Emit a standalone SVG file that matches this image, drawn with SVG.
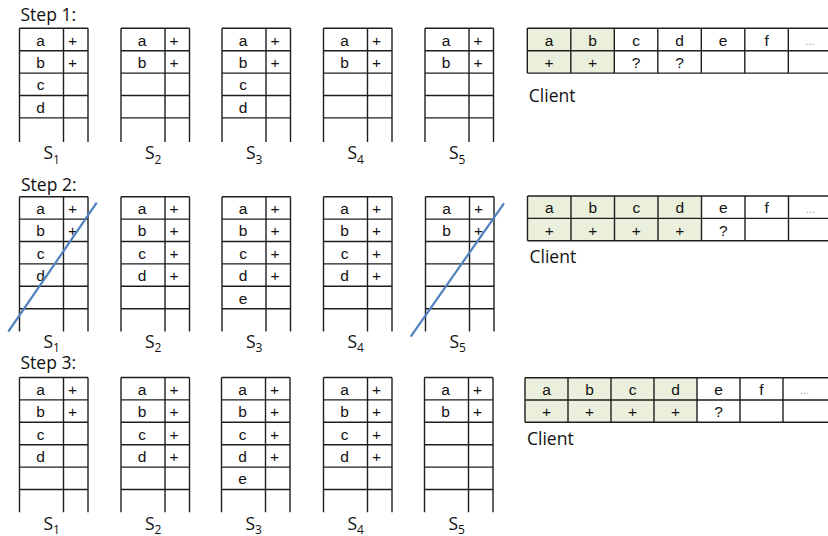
<svg xmlns="http://www.w3.org/2000/svg" xmlns:xlink="http://www.w3.org/1999/xlink" width="828" height="536" viewBox="0 0 828 536">
<style>
.grid{fill:none;stroke:#1e1e1e;stroke-width:1.4}
.c{font-family:"Liberation Sans",Arial,sans-serif;font-size:15.5px;fill:#111;text-anchor:middle}
.dots{font-family:"Liberation Sans",Arial,sans-serif;font-size:11px;fill:#9a9a9a;text-anchor:middle}
.lbl{font-family:"Open Sans","Liberation Sans",sans-serif;font-size:17.5px;fill:#111}
.sub{font-size:12px}
.shade{fill:#EAF0DC}
.slash{stroke:#4F81BD;stroke-width:2.2;fill:none}
</style>
<defs>
<path id="g5" class="grid" d="M0 0H68.5M0 22.4H68.5M0 44.8H68.5M0 67.2H68.5M0 89.6H68.5M0 0V113.7M44 0V113.7M68.5 0V113.7"/>
<path id="g6" class="grid" d="M0 0H68.5M0 22.4H68.5M0 44.8H68.5M0 67.2H68.5M0 89.6H68.5M0 112H68.5M0 0V134.8M44 0V134.8M68.5 0V134.8"/>
</defs>
<rect width="828" height="536" fill="#fff"/>

<!-- Step labels -->
<text class="lbl" x="20.5" y="20.7">Step 1:</text>
<text class="lbl" x="21" y="191">Step 2:</text>
<text class="lbl" x="20.5" y="369.3">Step 3:</text>

<!-- ===== STEP 1 ===== -->
<g id="s1-step1" transform="translate(19.5,28.3)">
<use xlink:href="#g5"/>
<text class="c" x="21" y="17.3">a</text><text class="c" x="53" y="17.3">+</text>
<text class="c" x="21" y="39.7">b</text><text class="c" x="53" y="39.7">+</text>
<text class="c" x="21" y="62.1">c</text>
<text class="c" x="21" y="84.5">d</text>
<text class="lbl" x="24" y="131.2">S<tspan class="sub" dy="4.5">1</tspan></text>
</g>
<g id="s2-step1" transform="translate(121,28.3)">
<use xlink:href="#g5"/>
<text class="c" x="21" y="17.3">a</text><text class="c" x="53" y="17.3">+</text>
<text class="c" x="21" y="39.7">b</text><text class="c" x="53" y="39.7">+</text>
<text class="lbl" x="24" y="131.2">S<tspan class="sub" dy="4.5">2</tspan></text>
</g>
<g id="s3-step1" transform="translate(222,28.3)">
<use xlink:href="#g5"/>
<text class="c" x="21" y="17.3">a</text><text class="c" x="53" y="17.3">+</text>
<text class="c" x="21" y="39.7">b</text><text class="c" x="53" y="39.7">+</text>
<text class="c" x="21" y="62.1">c</text>
<text class="c" x="21" y="84.5">d</text>
<text class="lbl" x="24" y="131.2">S<tspan class="sub" dy="4.5">3</tspan></text>
</g>
<g id="s4-step1" transform="translate(323.5,28.3)">
<use xlink:href="#g5"/>
<text class="c" x="21" y="17.3">a</text><text class="c" x="53" y="17.3">+</text>
<text class="c" x="21" y="39.7">b</text><text class="c" x="53" y="39.7">+</text>
<text class="lbl" x="24" y="131.2">S<tspan class="sub" dy="4.5">4</tspan></text>
</g>
<g id="s5-step1" transform="translate(425,28.3)">
<use xlink:href="#g5"/>
<text class="c" x="21" y="17.3">a</text><text class="c" x="53" y="17.3">+</text>
<text class="c" x="21" y="39.7">b</text><text class="c" x="53" y="39.7">+</text>
<text class="lbl" x="24" y="131.2">S<tspan class="sub" dy="4.5">5</tspan></text>
</g>
<g id="client-step1" transform="translate(527.3,28.3)">
<rect class="shade" x="0" y="0" width="87" height="44.8"/>
<path class="grid" d="M0 0H310M0 22.4H310M0 44.8H310M0 0V44.8M43.5 0V44.8M87 0V44.8M130.5 0V44.8M174 0V44.8M217.5 0V44.8M261 0V44.8"/>
<text class="c" x="21.75" y="17.3">a</text><text class="c" x="65.25" y="17.3">b</text><text class="c" x="108.75" y="17.3">c</text><text class="c" x="152.25" y="17.3">d</text><text class="c" x="195.75" y="17.3">e</text><text class="c" x="239.25" y="17.3">f</text><text class="dots" x="282.75" y="16.7">...</text>
<text class="c" x="21.75" y="39.7">+</text><text class="c" x="65.25" y="39.7">+</text><text class="c" x="108.75" y="39.7" fill="#333">?</text><text class="c" x="152.25" y="39.7" fill="#333">?</text>
<text class="lbl" x="1.5" y="73.7">Client</text>
</g>

<!-- ===== STEP 2 ===== -->
<g id="s1-step2" transform="translate(19.5,196.7)">
<use xlink:href="#g6"/>
<text class="c" x="21" y="17.3">a</text><text class="c" x="53" y="17.3">+</text>
<text class="c" x="21" y="39.7">b</text><text class="c" x="53" y="39.7">+</text>
<text class="c" x="21" y="62.1">c</text>
<text class="c" x="21" y="84.5">d</text>
<text class="lbl" x="24" y="151">S<tspan class="sub" dy="4">1</tspan></text>
</g>
<g id="s2-step2" transform="translate(121,196.7)">
<use xlink:href="#g6"/>
<text class="c" x="21" y="17.3">a</text><text class="c" x="53" y="17.3">+</text>
<text class="c" x="21" y="39.7">b</text><text class="c" x="53" y="39.7">+</text>
<text class="c" x="21" y="62.1">c</text><text class="c" x="53" y="62.1">+</text>
<text class="c" x="21" y="84.5">d</text><text class="c" x="53" y="84.5">+</text>
<text class="lbl" x="24" y="151">S<tspan class="sub" dy="4">2</tspan></text>
</g>
<g id="s3-step2" transform="translate(222,196.7)">
<use xlink:href="#g6"/>
<text class="c" x="21" y="17.3">a</text><text class="c" x="53" y="17.3">+</text>
<text class="c" x="21" y="39.7">b</text><text class="c" x="53" y="39.7">+</text>
<text class="c" x="21" y="62.1">c</text><text class="c" x="53" y="62.1">+</text>
<text class="c" x="21" y="84.5">d</text><text class="c" x="53" y="84.5">+</text>
<text class="c" x="21" y="106.9">e</text>
<text class="lbl" x="24" y="151">S<tspan class="sub" dy="4">3</tspan></text>
</g>
<g id="s4-step2" transform="translate(323.5,196.7)">
<use xlink:href="#g6"/>
<text class="c" x="21" y="17.3">a</text><text class="c" x="53" y="17.3">+</text>
<text class="c" x="21" y="39.7">b</text><text class="c" x="53" y="39.7">+</text>
<text class="c" x="21" y="62.1">c</text><text class="c" x="53" y="62.1">+</text>
<text class="c" x="21" y="84.5">d</text><text class="c" x="53" y="84.5">+</text>
<text class="lbl" x="24" y="151">S<tspan class="sub" dy="4">4</tspan></text>
</g>
<g id="s5-step2" transform="translate(425.5,196.7)">
<use xlink:href="#g6"/>
<text class="c" x="21" y="17.3">a</text><text class="c" x="53" y="17.3">+</text>
<text class="c" x="21" y="39.7">b</text><text class="c" x="53" y="39.7">+</text>
<text class="lbl" x="24" y="151">S<tspan class="sub" dy="4">5</tspan></text>
</g>
<g id="client-step2" transform="translate(527.5,196)">
<rect class="shade" x="0" y="0" width="174" height="44.8"/>
<path class="grid" d="M0 0H310M0 22.4H310M0 44.8H310M0 0V44.8M43.5 0V44.8M87 0V44.8M130.5 0V44.8M174 0V44.8M217.5 0V44.8M261 0V44.8"/>
<text class="c" x="21.75" y="17.3">a</text><text class="c" x="65.25" y="17.3">b</text><text class="c" x="108.75" y="17.3">c</text><text class="c" x="152.25" y="17.3">d</text><text class="c" x="195.75" y="17.3">e</text><text class="c" x="239.25" y="17.3">f</text><text class="dots" x="282.75" y="16.7">...</text>
<text class="c" x="21.75" y="39.7">+</text><text class="c" x="65.25" y="39.7">+</text><text class="c" x="108.75" y="39.7">+</text><text class="c" x="152.25" y="39.7">+</text><text class="c" x="195.75" y="39.7" fill="#333">?</text>
<text class="lbl" x="2" y="67">Client</text>
</g>

<!-- ===== STEP 3 ===== -->
<g id="s1-step3" transform="translate(19.5,377.5)">
<use xlink:href="#g6"/>
<text class="c" x="21" y="17.3">a</text><text class="c" x="53" y="17.3">+</text>
<text class="c" x="21" y="39.7">b</text><text class="c" x="53" y="39.7">+</text>
<text class="c" x="21" y="62.1">c</text>
<text class="c" x="21" y="84.5">d</text>
<text class="lbl" x="24" y="152">S<tspan class="sub" dy="4">1</tspan></text>
</g>
<g id="s2-step3" transform="translate(121,377.5)">
<use xlink:href="#g6"/>
<text class="c" x="21" y="17.3">a</text><text class="c" x="53" y="17.3">+</text>
<text class="c" x="21" y="39.7">b</text><text class="c" x="53" y="39.7">+</text>
<text class="c" x="21" y="62.1">c</text><text class="c" x="53" y="62.1">+</text>
<text class="c" x="21" y="84.5">d</text><text class="c" x="53" y="84.5">+</text>
<text class="lbl" x="24" y="152">S<tspan class="sub" dy="4">2</tspan></text>
</g>
<g id="s3-step3" transform="translate(221.5,377.5)">
<use xlink:href="#g6"/>
<text class="c" x="21" y="17.3">a</text><text class="c" x="53" y="17.3">+</text>
<text class="c" x="21" y="39.7">b</text><text class="c" x="53" y="39.7">+</text>
<text class="c" x="21" y="62.1">c</text><text class="c" x="53" y="62.1">+</text>
<text class="c" x="21" y="84.5">d</text><text class="c" x="53" y="84.5">+</text>
<text class="c" x="21" y="106.9">e</text>
<text class="lbl" x="24" y="152">S<tspan class="sub" dy="4">3</tspan></text>
</g>
<g id="s4-step3" transform="translate(323.5,377.5)">
<use xlink:href="#g6"/>
<text class="c" x="21" y="17.3">a</text><text class="c" x="53" y="17.3">+</text>
<text class="c" x="21" y="39.7">b</text><text class="c" x="53" y="39.7">+</text>
<text class="c" x="21" y="62.1">c</text><text class="c" x="53" y="62.1">+</text>
<text class="c" x="21" y="84.5">d</text><text class="c" x="53" y="84.5">+</text>
<text class="lbl" x="24" y="152">S<tspan class="sub" dy="4">4</tspan></text>
</g>
<g id="s5-step3" transform="translate(424.5,377.5)">
<use xlink:href="#g6"/>
<text class="c" x="21" y="17.3">a</text><text class="c" x="53" y="17.3">+</text>
<text class="c" x="21" y="39.7">b</text><text class="c" x="53" y="39.7">+</text>
<text class="lbl" x="24" y="152">S<tspan class="sub" dy="4">5</tspan></text>
</g>
<g id="client-step3" transform="translate(525,377.7)">
<rect class="shade" x="0" y="0" width="172" height="44.6"/>
<path class="grid" d="M0 0H310M0 22.3H310M0 44.6H310M0 0V44.6M43 0V44.6M86 0V44.6M129 0V44.6M172 0V44.6M215 0V44.6M258 0V44.6"/>
<text class="c" x="21.5" y="17.3">a</text><text class="c" x="64.5" y="17.3">b</text><text class="c" x="107.5" y="17.3">c</text><text class="c" x="150.5" y="17.3">d</text><text class="c" x="193.5" y="17.3">e</text><text class="c" x="236.5" y="17.3">f</text><text class="dots" x="279.5" y="16.7">...</text>
<text class="c" x="21.5" y="39.6">+</text><text class="c" x="64.5" y="39.6">+</text><text class="c" x="107.5" y="39.6">+</text><text class="c" x="150.5" y="39.6">+</text><text class="c" x="193.5" y="39.6" fill="#333">?</text>
<text class="lbl" x="2" y="67.3">Client</text>
</g>

<!-- strike-through lines (failed servers) -->
<g id="connectors">
<line class="slash" x1="8.3" y1="331.7" x2="96.7" y2="202.7"/>
<line class="slash" x1="410.7" y1="336.7" x2="504" y2="203.3"/>
</g>
</svg>
